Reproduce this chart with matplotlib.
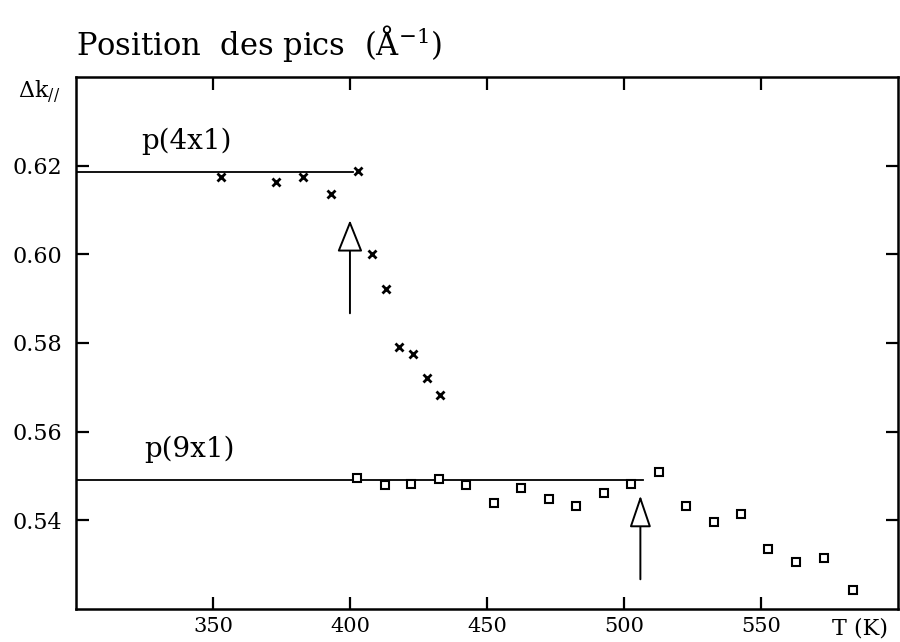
import matplotlib
matplotlib.use("Agg")
import matplotlib.pyplot as plt
from matplotlib.transforms import blended_transform_factory

plt.rcParams['font.family'] = 'DejaVu Serif'
plt.rcParams['mathtext.fontset'] = 'dejavuserif'

# p(4x1) peak positions (crosses)
temp_4x1 = [353, 373, 383, 393, 403, 408, 413, 418, 423, 428, 433]
dk_4x1 = [0.6175, 0.6162, 0.6175, 0.6135, 0.6187, 0.6000, 0.5921, 0.5792, 0.5775, 0.5721, 0.5682]

# p(9x1) peak positions (squares)
temp_9x1 = [402.5, 412.7, 422.4, 432.4, 442.4, 452.4, 462.4, 472.5, 482.6, 492.6,
            502.6, 512.7, 522.7, 532.8, 542.8, 552.6, 562.9, 573.1, 583.5]
dk_9x1 = [0.5495, 0.5479, 0.5483, 0.5494, 0.5479, 0.5438, 0.5472, 0.5449, 0.5432, 0.5461,
          0.5483, 0.5510, 0.5432, 0.5396, 0.5415, 0.5335, 0.5306, 0.5316, 0.5243]

# reference levels and transition arrows
level_4x1 = 0.6185
level_4x1_end = 401
level_9x1 = 0.5491
level_9x1_end = 507
arrow_4x1 = (400, 0.5867, 0.6077)
arrow_9x1 = (506, 0.5267, 0.5456)

xticks = [350, 400, 450, 500, 550]
yticks = [0.54, 0.56, 0.58, 0.60, 0.62]

fig = plt.figure(figsize=(9, 6.42), dpi=100)
ax = fig.add_axes([0.0844, 0.0514, 0.9133, 0.8287])

ax.plot([300, level_4x1_end], [level_4x1, level_4x1], color='black', lw=1.3)
ax.plot([300, level_9x1_end], [level_9x1, level_9x1], color='black', lw=1.3)

ax.plot(temp_4x1, dk_4x1, linestyle='none', marker='x', ms=5.5, mew=2, color='black')
ax.plot(temp_9x1, dk_9x1, linestyle='none', marker='s', ms=6, mew=1.5,
        mfc='white', mec='black')

for (x, y0, y1), hw in [(arrow_4x1, 0.8), (arrow_9x1, 0.68)]:
    ax.annotate('', xy=(x, y1), xytext=(x, y0),
                arrowprops=dict(arrowstyle='-|>,head_length=2.0,head_width=%s' % hw,
                                fc='white', ec='black', lw=1.4, shrinkA=0, shrinkB=0))

ax.text(324, level_4x1 + 0.007, 'p(4x1)', fontsize=20, ha='left', va='center')
ax.text(325, level_9x1 + 0.007, 'p(9x1)', fontsize=20, ha='left', va='center')

ax.set_xlim(300, 600)
ax.set_ylim(0.52, 0.64)
ax.set_xticks(xticks)
ax.set_yticks(yticks)
ax.set_xticklabels([str(t) for t in xticks])
ax.set_yticklabels(['%.2f' % t for t in yticks])
ax.tick_params(direction='in', length=9, width=1.6, top=True, right=True)
ax.tick_params(axis='x', labelsize=15, pad=6)
ax.tick_params(axis='y', labelsize=16, pad=10)
for s in ax.spines.values():
    s.set_linewidth(1.8)

trans = blended_transform_factory(ax.transData, ax.transAxes)
ax.text(586, -0.036, 'T (K)', transform=trans, fontsize=16, ha='center', va='center')

fig.text(76 / 900, 1 - 43 / 642, r'Position  des pics  (Å$^{-1}$)', fontsize=22,
         ha='left', va='center')
fig.text(18 / 900, 1 - 92 / 642, r'$\Delta$k$_{//}$', fontsize=16, ha='left', va='center')

fig.savefig('out.png', dpi=100)
